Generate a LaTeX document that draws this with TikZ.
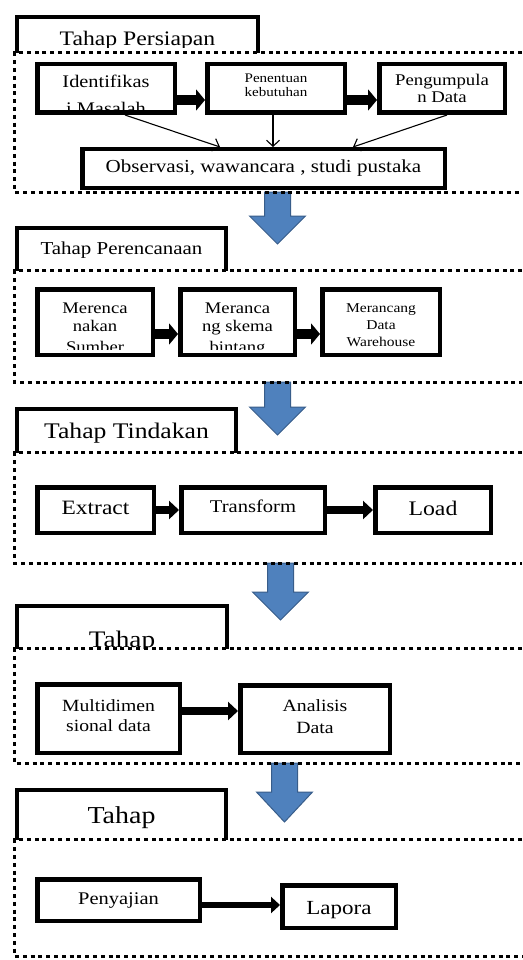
\documentclass[tikz,border=0pt]{standalone}
\usepackage{fontspec}
\setmainfont{Liberation Serif}[FakeStretch=1.15]
\usetikzlibrary{arrows.meta,fit}
\definecolor{arrowfill}{RGB}{79,129,189}
\definecolor{arrowline}{RGB}{56,93,138}
\newcommand{\fs}[1]{\fontsize{#1}{#1}\selectfont}
\newcommand{\inbox}[3]{\begin{scope}\clip ([yshift=#2]#1.south west) rectangle (#1.north east);#3\end{scope}}
\begin{document}
\begin{tikzpicture}[x=1pt,y=-1pt,
  box/.style={draw, line width=4.5pt, inner sep=-2.25pt},
  holder/.style={inner sep=0pt},
  tline/.style={line width=4.5pt, line join=miter},
  dotline/.style={line width=3pt, dash pattern=on 4pt off 3.8pt},
  txt/.style={anchor=base, inner sep=0pt},
  fatA/.style={line width=10pt, -{Triangle[length=9pt,width=21pt]}},
  fatB/.style={line width=8pt, -{Triangle[length=10pt,width=18pt]}},
  fatC/.style={line width=6.5pt, -{Triangle[length=9pt,width=16pt]}},
  thin/.style={line width=1.1pt, -{Straight Barb[length=6pt,width=13pt]}},
  bluearrow/.style={fill=arrowfill, draw=arrowline, line width=1pt, line join=miter},
]
\useasboundingbox[fill=white] (0,0) rectangle (522,960);

% ---------- blue arrows between stages ----------
\filldraw[bluearrow] (264.5,192) -- (290.5,192) -- (290.5,216) -- (305.5,216) -- (277.5,244) -- (249.5,216) -- (264.5,216) -- cycle;
\filldraw[bluearrow] (264.5,382) -- (290.5,382) -- (290.5,407) -- (305.5,407) -- (277.5,435) -- (249.5,407) -- (264.5,407) -- cycle;
\filldraw[bluearrow] (267.5,563) -- (293.5,563) -- (293.5,592) -- (308.5,592) -- (280.5,620) -- (252.5,592) -- (267.5,592) -- cycle;
\filldraw[bluearrow] (271.5,763) -- (297.5,763) -- (297.5,792) -- (312.5,792) -- (284.5,822) -- (256.5,792) -- (271.5,792) -- cycle;

% ---------- dotted stage frames ----------
\node[holder, fit={(15,53) (522,192)}] (F1) {};
\node[holder, fit={(15,271) (522,382)}] (F2) {};
\node[holder, fit={(15,453) (522,563)}] (F3) {};
\node[holder, fit={(15,649) (522,763)}] (F4) {};
\node[holder, fit={(15,840) (522,956)}] (F5) {};
\foreach \f in {F1,F2,F3,F4,F5}
  \draw[dotline] (\f.north east) -- (\f.north west) -- (\f.south west) -- (\f.south east);

% ---------- stage titles ----------
\node[holder, fit={(15,15) (260,53)}] (T1) {};
\node[holder, fit={(15,226) (228,271)}] (T2) {};
\node[holder, fit={(15,407) (238,453)}] (T3) {};
\node[holder, fit={(15,604) (229,649)}] (T4) {};
\node[holder, fit={(15,788) (228,840)}] (T5) {};
\foreach \t in {T1,T2,T3,T4,T5}
  \draw[tline] ([xshift=2.25pt]\t.south west) |- ([yshift=-2.25pt]\t.north) -| ([xshift=-2.25pt]\t.south east);
\inbox{T1}{6pt}{\node[txt,font=\fs{20.6}] (t1) at (137.5,46) {Tahap Persiapan};}
\inbox{T2}{0pt}{\node[txt,font=\fs{18.2}] (t2) at (121.5,254) {Tahap Perencanaan};}
\inbox{T3}{0pt}{\node[txt,font=\fs{22.3}] (t3) at (126.5,438) {Tahap Tindakan};}
\inbox{T4}{1pt}{\node[txt,font=\fs{23.7}] (t4) at (122,647) {Tahap};}
\inbox{T5}{0pt}{\node[txt,font=\fs{24.3}] (t5) at (121.5,823) {Tahap};}

% ---------- stage 1 ----------
\node[box, fit={(35,62) (177,115)}] (b11) {};
\node[box, fit={(205,62) (347,115)}] (b12) {};
\node[box, fit={(377,62) (507,115)}] (b13) {};
\node[box, fit={(80,147) (447,190)}] (obs) {};
\inbox{b11}{1pt}{\node[txt,font=\fs{17.7}] (t11a) at (106,88) {Identifikas};
  \node[txt,font=\fs{17.7}] (t11b) at (106,114.5) {i Masalah};}
\inbox{b12}{0pt}{\node[txt,font=\fs{13.1}] (t12a) at (276,83) {Penentuan};
  \node[txt,font=\fs{13.1}] (t12b) at (276,97) {kebutuhan};}
\inbox{b13}{0pt}{\node[txt,font=\fs{16.3}] (t13a) at (442,86) {Pengumpula};
  \node[txt,font=\fs{16.3}] (t13b) at (442,103) {n Data};}
\inbox{obs}{0pt}{\node[txt,font=\fs{18.3}] (tobs) at (263.5,173) {Observasi, wawancara , studi pustaka};}
\draw[fatA] ([yshift=-11.5pt]b11.east) -- ([yshift=-11.5pt]b11.east -| b12.west);
\draw[fatA] ([yshift=-11.5pt]b12.east) -- ([yshift=-11.5pt]b12.east -| b13.west);
\draw[thin] ([xshift=19pt]b11.south) -- ([xshift=-43.5pt]obs.north);
\draw[thin] ([xshift=-3pt]b12.south) -- ([xshift=-3pt]b12.south |- obs.north);
\draw[thin] ([xshift=5pt]b13.south) -- ([xshift=89.5pt]obs.north);

% ---------- stage 2 ----------
\node[box, fit={(35,287) (155,357)}] (b21) {};
\node[box, fit={(178,287) (297,357)}] (b22) {};
\node[box, fit={(320,287) (442,357)}] (b23) {};
\inbox{b21}{7.75pt}{\node[txt,font=\fs{16.2}] (t21a) at (95,313) {Merenca};
  \node[txt,font=\fs{16.2}] (t21b) at (95,331) {nakan};
  \node[txt,font=\fs{16.2}] (t21c) at (95,352) {Sumber};}
\inbox{b22}{7.75pt}{\node[txt,font=\fs{16.2}] (t22a) at (237.5,313) {Meranca};
  \node[txt,font=\fs{16.2}] (t22b) at (237.5,331) {ng skema};
  \node[txt,font=\fs{16.2}] (t22c) at (237.5,352) {bintang};}
\inbox{b23}{0pt}{\node[txt,font=\fs{13.5}] (t23a) at (381,312) {Merancang};
  \node[txt,font=\fs{13.5}] (t23b) at (381,329) {Data};
  \node[txt,font=\fs{13.5}] (t23c) at (381,346) {Warehouse};}
\draw[fatA] ([yshift=-12pt]b21.east) -- ([yshift=-12pt]b21.east -| b22.west);
\draw[fatA] ([yshift=-12pt]b22.east) -- ([yshift=-12pt]b22.east -| b23.west);

% ---------- stage 3 ----------
\node[box, fit={(35,485) (156,535)}] (b31) {};
\node[box, fit={(179,485) (327,535)}] (b32) {};
\node[box, fit={(373,485) (493,535)}] (b33) {};
\inbox{b31}{0pt}{\node[txt,font=\fs{20.4}] (t31) at (95.5,514) {Extract};}
\inbox{b32}{0pt}{\node[txt,font=\fs{17.9}] (t32) at (253,512) {Transform};}
\inbox{b33}{0pt}{\node[txt,font=\fs{20.7}] (t33) at (433,515) {Load};}
\draw[fatB] (b31.east) -- (b31.east -| b32.west);
\draw[fatB] (b32.east) -- (b32.east -| b33.west);

% ---------- stage 4 ----------
\node[box, fit={(35,682) (182,755)}] (b41) {};
\node[box, fit={(238,683) (392,755)}] (b42) {};
\inbox{b41}{0pt}{\node[txt,font=\fs{17.1}] (t41a) at (108.5,711) {Multidimen};
  \node[txt,font=\fs{17.1}] (t41b) at (108.5,731) {sional data};}
\inbox{b42}{0pt}{\node[txt,font=\fs{17.2}] (t42a) at (315,711) {Analisis};
  \node[txt,font=\fs{17.2}] (t42b) at (315,733) {Data};}
\draw[fatB] ([yshift=7.5pt]b41.east) -- ([yshift=7.5pt]b41.east -| b42.west);

% ---------- stage 5 ----------
\node[box, fit={(35,877) (202,923)}] (b51) {};
\node[box, fit={(280,883) (398,930)}] (b52) {};
\inbox{b51}{0pt}{\node[txt,font=\fs{17.8}] (t51) at (118.5,904) {Penyajian};}
\inbox{b52}{0pt}{\node[txt,font=\fs{20}] (t52) at (339,914) {Lapora};}
\draw[fatC] ([yshift=-5pt]b51.east) -- ([yshift=-5pt]b51.east -| b52.west);
\end{tikzpicture}
\end{document}
